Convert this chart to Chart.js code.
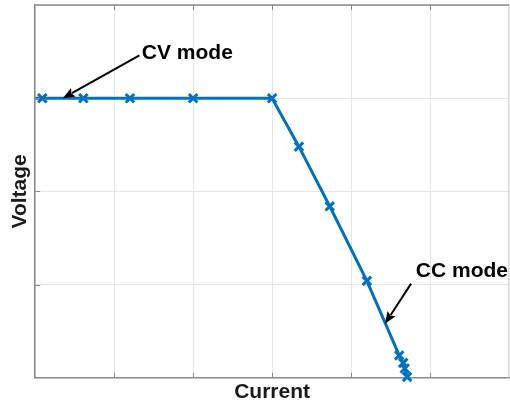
<!DOCTYPE html>
<html>
<head>
<meta charset="utf-8">
<script src="https://cdn.jsdelivr.net/npm/chart.js@4"></script>
<style>
  html, body { margin: 0; padding: 0; background: #ffffff; }
  #wrap { width: 510px; height: 406px; }
</style>
</head>
<body>
<div id="wrap"><canvas id="c" width="510" height="406"></canvas></div>
<script>
// Load curve of the supply: constant-voltage plateau, then constant-current drop
const currentValues = [0, 0.09, 0.61, 1.20, 2.00, 3.00, 3.34, 3.73, 4.20, 4.61, 4.66, 4.68, 4.71];
const voltageValues = [3, 3.00, 3.00, 3.00, 3.00, 3.00, 2.48, 1.84, 1.04, 0.24, 0.16, 0.10, 0.01];

const xTitle = 'Current';
const yTitle = 'Voltage';

// Annotation labels with their arrow start and tip, in data units
const noteLabels = ['CV mode', 'CC mode'];
const noteTextAt = [[1.35, 3.48], [4.82, 1.14]];
const noteArrowFrom = [[1.32, 3.46], [4.76, 1.01]];
const noteArrowTo = [[0.35, 3.0], [4.43, 0.58]];

const lineBlue = '#0072BD';
const boldFont = 'bold 21px "Liberation Sans", Arial, sans-serif';

const frame = {
  id: 'frame',
  afterDatasetsDraw(chart) {
    const { ctx, chartArea: a, scales } = chart;
    ctx.save();
    // light right edge, darker top edge
    ctx.strokeStyle = '#dcdcdc';
    ctx.lineWidth = 1;
    ctx.beginPath();
    ctx.moveTo(a.right - 0.5, a.top);
    ctx.lineTo(a.right - 0.5, a.bottom);
    ctx.stroke();
    ctx.strokeStyle = '#8a8a8a';
    ctx.lineWidth = 1.5;
    ctx.beginPath();
    ctx.moveTo(a.left, a.top);
    ctx.lineTo(a.right, a.top);
    ctx.stroke();
    // inward tick marks
    ctx.strokeStyle = '#8a8a8a';
    ctx.lineWidth = 1;
    for (let v = 1; v < 6; v++) {
      const x = Math.round(scales.x.getPixelForValue(v)) + 0.5;
      ctx.beginPath();
      ctx.moveTo(x, a.bottom); ctx.lineTo(x, a.bottom - 5);
      ctx.moveTo(x, a.top); ctx.lineTo(x, a.top + 5);
      ctx.stroke();
    }
    for (let v = 1; v < 4; v++) {
      const y = Math.round(scales.y.getPixelForValue(v)) + 0.5;
      ctx.beginPath();
      ctx.moveTo(a.left, y); ctx.lineTo(a.left + 5, y);
      ctx.stroke();
    }
    // annotations
    ctx.fillStyle = '#000000';
    ctx.strokeStyle = '#000000';
    ctx.font = boldFont;
    ctx.textBaseline = 'middle';
    ctx.textAlign = 'left';
    noteLabels.forEach((label, i) => {
      const tx = scales.x.getPixelForValue(noteTextAt[i][0]);
      const ty = scales.y.getPixelForValue(noteTextAt[i][1]);
      ctx.fillText(label, tx, ty);
      const x0 = scales.x.getPixelForValue(noteArrowFrom[i][0]);
      const y0 = scales.y.getPixelForValue(noteArrowFrom[i][1]);
      const x1 = scales.x.getPixelForValue(noteArrowTo[i][0]);
      const y1 = scales.y.getPixelForValue(noteArrowTo[i][1]);
      const ang = Math.atan2(y1 - y0, x1 - x0);
      const head = 13, spread = 0.38;
      ctx.lineWidth = 2;
      ctx.beginPath();
      ctx.moveTo(x0, y0);
      ctx.lineTo(x1 - Math.cos(ang) * head * 0.8, y1 - Math.sin(ang) * head * 0.8);
      ctx.stroke();
      ctx.beginPath();
      ctx.moveTo(x1, y1);
      ctx.lineTo(x1 - head * Math.cos(ang - spread), y1 - head * Math.sin(ang - spread));
      ctx.lineTo(x1 - head * 0.75 * Math.cos(ang), y1 - head * 0.75 * Math.sin(ang));
      ctx.lineTo(x1 - head * Math.cos(ang + spread), y1 - head * Math.sin(ang + spread));
      ctx.closePath();
      ctx.fill();
    });
    ctx.restore();
  }
};

new Chart(document.getElementById('c'), {
  type: 'line',
  data: {
    datasets: [{
      data: currentValues.map((x, i) => ({ x, y: voltageValues[i] })),
      borderColor: lineBlue,
      backgroundColor: lineBlue,
      borderWidth: 3,
      pointStyle: 'crossRot',
      pointRadius: ctx => ctx.dataIndex === 0 ? 0 : 6,
      pointHoverRadius: 6,
      pointBorderWidth: 3,
      pointBorderColor: lineBlue,
      tension: 0,
      fill: false,
      clip: { left: 0, top: 0, right: 0, bottom: 8 }
    }]
  },
  options: {
    responsive: false,
    animation: false,
    events: [],
    layout: { autoPadding: false, padding: { left: 0, right: 1, top: 5, bottom: 0 } },
    plugins: { legend: { display: false }, tooltip: { enabled: false } },
    scales: {
      x: {
        type: 'linear', min: 0, max: 6,
        afterFit: s => { s.paddingLeft = 0; s.paddingRight = 0; },
        ticks: { display: false, stepSize: 1 },
        grid: { color: '#e6e6e6', drawTicks: false, tickLength: 0 },
        border: { color: '#8a8a8a', width: 1.5 },
        title: {
          display: true, text: xTitle, color: '#1a1a1a',
          font: { family: '"Liberation Sans", Arial, sans-serif', size: 21, weight: 'bold' },
          padding: { top: 2, bottom: 1 }
        }
      },
      y: {
        type: 'linear', min: 0, max: 4,
        afterFit: s => { s.paddingTop = 0; s.paddingBottom = 0; },
        ticks: { display: false, stepSize: 1 },
        grid: { color: '#e6e6e6', drawTicks: false, tickLength: 0 },
        border: { color: '#8a8a8a', width: 1.5 },
        title: {
          display: true, text: yTitle, color: '#1a1a1a',
          font: { family: '"Liberation Sans", Arial, sans-serif', size: 21, weight: 'bold' },
          padding: { top: 8, bottom: 2 }
        }
      }
    }
  },
  plugins: [frame]
});
</script>
</body>
</html>
